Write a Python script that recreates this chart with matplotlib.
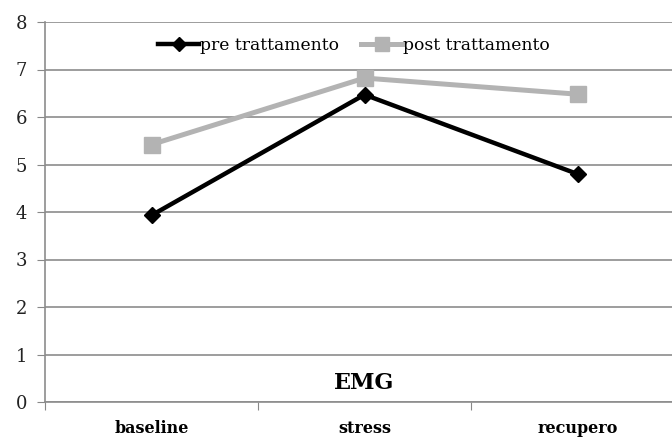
import matplotlib.pyplot as plt

categories = ["baseline", "stress", "recupero"]
pre_values = [3.93, 6.47, 4.80]
post_values = [5.42, 6.82, 6.48]
y_ticks = [0, 1, 2, 3, 4, 5, 6, 7, 8]


def main():
    plt.rcParams['font.family'] = ['DejaVu Serif']

    fig = plt.figure(figsize=(6.72, 4.41), dpi=100)
    # plot area runs a bit past the right edge of the picture, as in the original
    ax = fig.add_axes([45 / 672, 39 / 441, 639 / 672, 380 / 441])

    x = [i + 0.5 for i in range(len(categories))]

    ax.plot(x, post_values, color="#b3b3b3", lw=3.6, marker="s", ms=11,
            label="post trattamento", zorder=3)
    ax.plot(x, pre_values, color="black", lw=3.2, marker="D", ms=8,
            label="pre trattamento", zorder=4)

    ax.set_xlim(0, 3)
    ax.set_ylim(0, 8)
    ax.set_yticks(y_ticks)
    ax.set_yticklabels([str(t) for t in y_ticks], fontsize=13, color="#222222")
    ax.set_xticks([0, 1, 2, 3])
    ax.set_xticklabels([])
    ax.set_xticks(x, minor=True)
    ax.set_xticklabels(categories, minor=True, fontsize=11.5, fontweight="bold")
    ax.tick_params(axis="x", which="minor", length=0, pad=13)
    ax.tick_params(axis="x", which="major", length=6, color="#888888")
    ax.tick_params(axis="y", length=6, color="#888888", pad=7)

    ax.grid(axis="y", color="#8c8c8c", lw=1.2)
    ax.set_axisbelow(True)
    for side in ["top", "right"]:
        ax.spines[side].set_visible(False)
    ax.spines["left"].set_color("#8c8c8c")
    ax.spines["bottom"].set_color("#8c8c8c")
    ax.spines["left"].set_linewidth(1.2)
    ax.spines["bottom"].set_linewidth(1.2)

    ax.text(1.5, 0.4, "EMG", ha="center", va="center", fontsize=16,
            fontweight="bold")

    handles, labels = ax.get_legend_handles_labels()
    ax.legend(handles[::-1], labels[::-1], loc="upper center",
              bbox_to_anchor=(309 / 639, 1.0), ncol=2, frameon=False,
              fontsize=12.3, handlelength=2.4, handletextpad=0.05,
              columnspacing=1.3, markerscale=0.9)

    fig.savefig("out.png", dpi=100)


if __name__ == "__main__":
    main()
